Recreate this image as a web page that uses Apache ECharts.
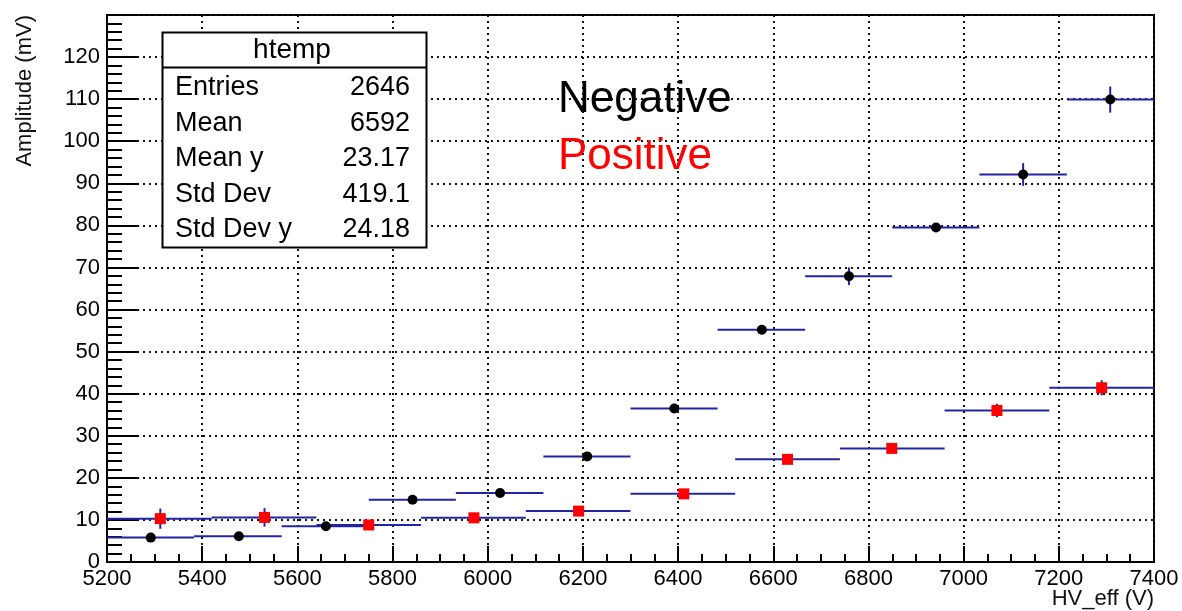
<!DOCTYPE html>
<html>
<head>
<meta charset="utf-8">
<script src="https://cdn.jsdelivr.net/npm/echarts@6/dist/echarts.min.js"></script>
<style>
  html, body { margin: 0; padding: 0; background: #fff; }
  #chart { width: 1182px; height: 611px; }
</style>
</head>
<body>
<div id="chart"></div>
<script>
// Negative polarity (black dots), 12 bins
var negEdges = [5200, 5383, 5567, 5750, 5933, 6117, 6300, 6483, 6667, 6850, 7033, 7217, 7400];
var negX = [5292, 5477, 5660, 5842, 6026, 6209, 6392, 6576, 6759, 6942, 7125, 7308];
var negY = [5.8, 6.1, 8.5, 14.8, 16.4, 25.1, 36.5, 55.2, 67.9, 79.5, 92.1, 109.9];
var negErr = [0.5, 0.5, 0.5, 0.5, 0.5, 0.6, 0.8, 0.8, 2.1, 1.0, 2.7, 3.1];

// Positive polarity (red squares), 10 bins
var posEdges = [5200, 5420, 5640, 5860, 6080, 6300, 6520, 6740, 6960, 7180, 7400];
var posX = [5312, 5531, 5750, 5971, 6191, 6412, 6630, 6849, 7070, 7290];
var posY = [10.3, 10.6, 8.8, 10.5, 12.1, 16.2, 24.4, 27.0, 36.0, 41.4];
var posErr = [2.4, 2.2, 0.5, 0.5, 0.5, 0.6, 0.6, 0.8, 1.6, 1.8];

var statNames = ['Entries', 'Mean', 'Mean y', 'Std Dev', 'Std Dev y'];
var statValues = ['2646', '6592', '23.17', '419.1', '24.18'];

var barColor = '#2424a0';
var font = '"Liberation Sans", Arial, sans-serif';
var gridDots = { color: '#111', width: 2, type: [2, 4] };

function errData(xs, ys, errs, edges) {
  return xs.map(function (x, i) {
    return [x, ys[i], edges[i], edges[i + 1], errs[i]];
  });
}

function renderErr(params, api) {
  var x = api.value(0), y = api.value(1), e = api.value(4);
  var l = api.coord([api.value(2), y]);
  var r = api.coord([api.value(3), y]);
  var t = api.coord([x, y + e]);
  var b = api.coord([x, y - e]);
  var st = { stroke: barColor, lineWidth: 2 };
  return {
    type: 'group',
    children: [
      { type: 'line', shape: { x1: l[0], y1: l[1], x2: r[0], y2: r[1] }, style: st },
      { type: 'line', shape: { x1: t[0], y1: t[1], x2: b[0], y2: b[1] }, style: st }
    ]
  };
}

var chart = echarts.init(document.getElementById('chart'));
chart.setOption({
  animation: false,
  backgroundColor: '#fff',
  grid: {
    left: 107, right: 28, top: 15, bottom: 49,
    containLabel: false, outerBoundsMode: 'none',
    show: true, borderColor: '#000', borderWidth: 2
  },
  xAxis: {
    type: 'value', min: 5200, max: 7400, interval: 200,
    axisLine: { lineStyle: { color: '#000', width: 2 } },
    axisTick: { inside: true, length: 16, lineStyle: { color: '#000', width: 2 } },
    minorTick: { show: true, splitNumber: 4, length: 8, lineStyle: { color: '#000', width: 2 } },
    axisLabel: { fontFamily: font, fontSize: 22, color: '#000', margin: 6, formatter: function (v) { return String(v); } },
    splitLine: { show: true, lineStyle: gridDots }
  },
  yAxis: {
    type: 'value', min: 0, max: 130, interval: 10,
    axisLine: { show: true, lineStyle: { color: '#000', width: 2 } },
    axisTick: { show: true, inside: true, length: 30, lineStyle: { color: '#000', width: 2 } },
    minorTick: { show: true, splitNumber: 5, length: 15, lineStyle: { color: '#000', width: 2 } },
    axisLabel: {
      fontFamily: font, fontSize: 22, color: '#000', margin: 7,
      formatter: function (v) { return v === 130 ? '' : String(v); }
    },
    splitLine: { show: true, lineStyle: gridDots }
  },
  graphic: [
    { type: 'text', x: 25, y: 15, rotation: Math.PI / 2,
      style: { text: 'Amplitude (mV)', font: '22px ' + font, fill: '#111', align: 'right', verticalAlign: 'middle' } },
    { type: 'text', x: 1154, y: 599,
      style: { text: 'HV_eff (V)', font: '22px ' + font, fill: '#111', align: 'right', verticalAlign: 'middle' } },
    { type: 'rect', shape: { x: 162.5, y: 32.5, width: 264, height: 215 },
      style: { fill: '#fff', stroke: '#000', lineWidth: 2 }, z: 10 },
    { type: 'line', shape: { x1: 162.5, y1: 67.5, x2: 426.5, y2: 67.5 }, style: { stroke: '#000', lineWidth: 2 }, z: 10 },
    { type: 'text', x: 292, y: 50, z: 11,
      style: { text: 'htemp', font: '28px ' + font, fill: '#000', align: 'center', verticalAlign: 'middle' } },
    { type: 'group', z: 11, children: statNames.map(function (n, i) {
        return { type: 'text', x: 175, y: 88 + i * 35.5, z: 11,
          style: { text: n, font: '27px ' + font, fill: '#000', align: 'left', verticalAlign: 'middle' } };
      }).concat(statValues.map(function (v, i) {
        return { type: 'text', x: 410, y: 88 + i * 35.5, z: 11,
          style: { text: v, font: '27px ' + font, fill: '#000', align: 'right', verticalAlign: 'middle' } };
      }))
    },
    { type: 'text', x: 558, y: 100, z: 11,
      style: { text: 'Negative', font: '44px ' + font, fill: '#000', align: 'left', verticalAlign: 'middle' } },
    { type: 'text', x: 558, y: 157, z: 11,
      style: { text: 'Positive', font: '44px ' + font, fill: '#ff0000', align: 'left', verticalAlign: 'middle' } }
  ],
  series: [
    { type: 'custom', renderItem: renderErr, data: errData(negX, negY, negErr, negEdges), z: 2, silent: true },
    { type: 'custom', renderItem: renderErr, data: errData(posX, posY, posErr, posEdges), z: 2, silent: true },
    { type: 'scatter', data: negX.map(function (x, i) { return [x, negY[i]]; }),
      symbol: 'circle', symbolSize: 10, itemStyle: { color: '#000', opacity: 1 }, z: 3 },
    { type: 'scatter', data: posX.map(function (x, i) { return [x, posY[i]]; }),
      symbol: 'rect', symbolSize: 11, itemStyle: { color: '#ff0000', opacity: 1 }, z: 3 }
  ]
});
</script>
</body>
</html>
